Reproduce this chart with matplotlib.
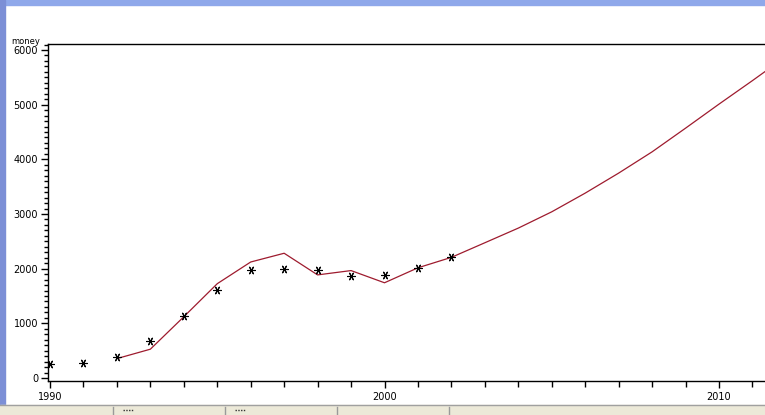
import matplotlib
matplotlib.use("Agg")
import matplotlib.pyplot as plt
from matplotlib.patches import Rectangle
from matplotlib.ticker import MultipleLocator, FixedLocator
import matplotlib.lines as mlines

# ---- data ----
obs_years = [1990, 1991, 1992, 1993, 1994, 1995, 1996, 1997, 1998, 1999, 2000, 2001, 2002]
obs_money = [256, 278, 388, 680, 1133, 1615, 1975, 1994, 1975, 1875, 1893, 2015, 2205]

fit_years = [1992, 1993, 1994, 1995, 1996, 1997, 1998, 1999, 2000, 2001, 2002,
             2003, 2004, 2005, 2006, 2007, 2008, 2009, 2010, 2011, 2012]
fit_money = [355, 527, 1120, 1725, 2122, 2282, 1886, 1965, 1742, 2016, 2207,
             2474, 2742, 3040, 3382, 3748, 4137, 4570, 5010, 5440, 5880]

y_ticks = [0, 1000, 2000, 3000, 4000, 5000, 6000]
x_ticks = [1990, 2000, 2010]
y_label = "money"

W, H = 765, 415
fig = plt.figure(figsize=(W / 100, H / 100), dpi=100)
fig.patch.set_facecolor("white")

fonts = ["DejaVu Sans Condensed", "Liberation Sans Narrow", "DejaVu Sans"]

# axes placement (pixels)
ax_left, ax_top, ax_bottom, ax_right = 48, 44, 381, 768
ax = fig.add_axes([ax_left / W, 1 - ax_bottom / H, (ax_right - ax_left) / W, (ax_bottom - ax_top) / H])

px_per_year = (719 - 50) / 20.0
x0 = 1990 - (50 - ax_left) / px_per_year
x1 = 1990 + (ax_right - 50) / px_per_year
ax.set_xlim(x0, x1)
px_per_unit = (378 - 50) / 6000.0
y0 = -(ax_bottom - 378) / px_per_unit
y1 = 6000 + (50 - ax_top) / px_per_unit
ax.set_ylim(y0, y1)

ax.plot(fit_years, fit_money, color="#9E1B2E", lw=0.9, zorder=2)
ax.plot(obs_years, obs_money, linestyle="none", marker=(6, 2, 90), ms=6,
        mec="black", mew=0.8, color="black", zorder=3)

for s in ["right"]:
    ax.spines[s].set_visible(False)
for s in ["left", "top", "bottom"]:
    ax.spines[s].set_linewidth(1.0)
    ax.spines[s].set_color("black")

ax.yaxis.set_major_locator(FixedLocator(y_ticks))
ax.yaxis.set_minor_locator(MultipleLocator(100))
ax.xaxis.set_major_locator(FixedLocator(x_ticks))
ax.xaxis.set_minor_locator(MultipleLocator(1))
ax.tick_params(axis="y", which="major", direction="out", length=5, width=1, pad=2, labelsize=7)
ax.tick_params(axis="y", which="minor", direction="out", length=3, width=1)
ax.tick_params(axis="x", which="major", direction="out", length=5, width=1, pad=3, labelsize=7)
ax.tick_params(axis="x", which="minor", direction="out", length=4, width=1)
ax.set_yticklabels([str(v) for v in y_ticks], family=fonts)
ax.set_xticklabels([str(v) for v in x_ticks], family=fonts)

fig.text(11 / W, 1 - 42 / H, y_label, fontsize=6, family=fonts, va="center", ha="left")

# ---- window chrome ----
fig.patches.append(Rectangle((0, 1 - 5 / H), 1, 5 / H, transform=fig.transFigure,
                             color="#8FA8EA", zorder=10))
fig.patches.append(Rectangle((0, 0), 5 / W, 1, transform=fig.transFigure,
                             color="#7C8FD6", zorder=10))
fig.patches.append(Rectangle((0, 0), 1, 10 / H, transform=fig.transFigure,
                             color="#ECE9D8", zorder=10))
fig.lines.append(mlines.Line2D([0, 1], [10.5 / H, 10.5 / H], transform=fig.transFigure,
                               color="#A0A0A0", lw=1, zorder=11))
for xs in [113, 225, 337, 449]:
    fig.lines.append(mlines.Line2D([xs / W, xs / W], [0, 8 / H], transform=fig.transFigure,
                                   color="#9A9A9A", lw=1, zorder=11))
for xs in [123, 235]:
    fig.lines.append(mlines.Line2D([xs / W, (xs + 10) / W], [5 / H, 5 / H], transform=fig.transFigure,
                                   color="#333333", lw=1, ls=(0, (1, 1)), zorder=11))

fig.savefig("out.png", dpi=100)
